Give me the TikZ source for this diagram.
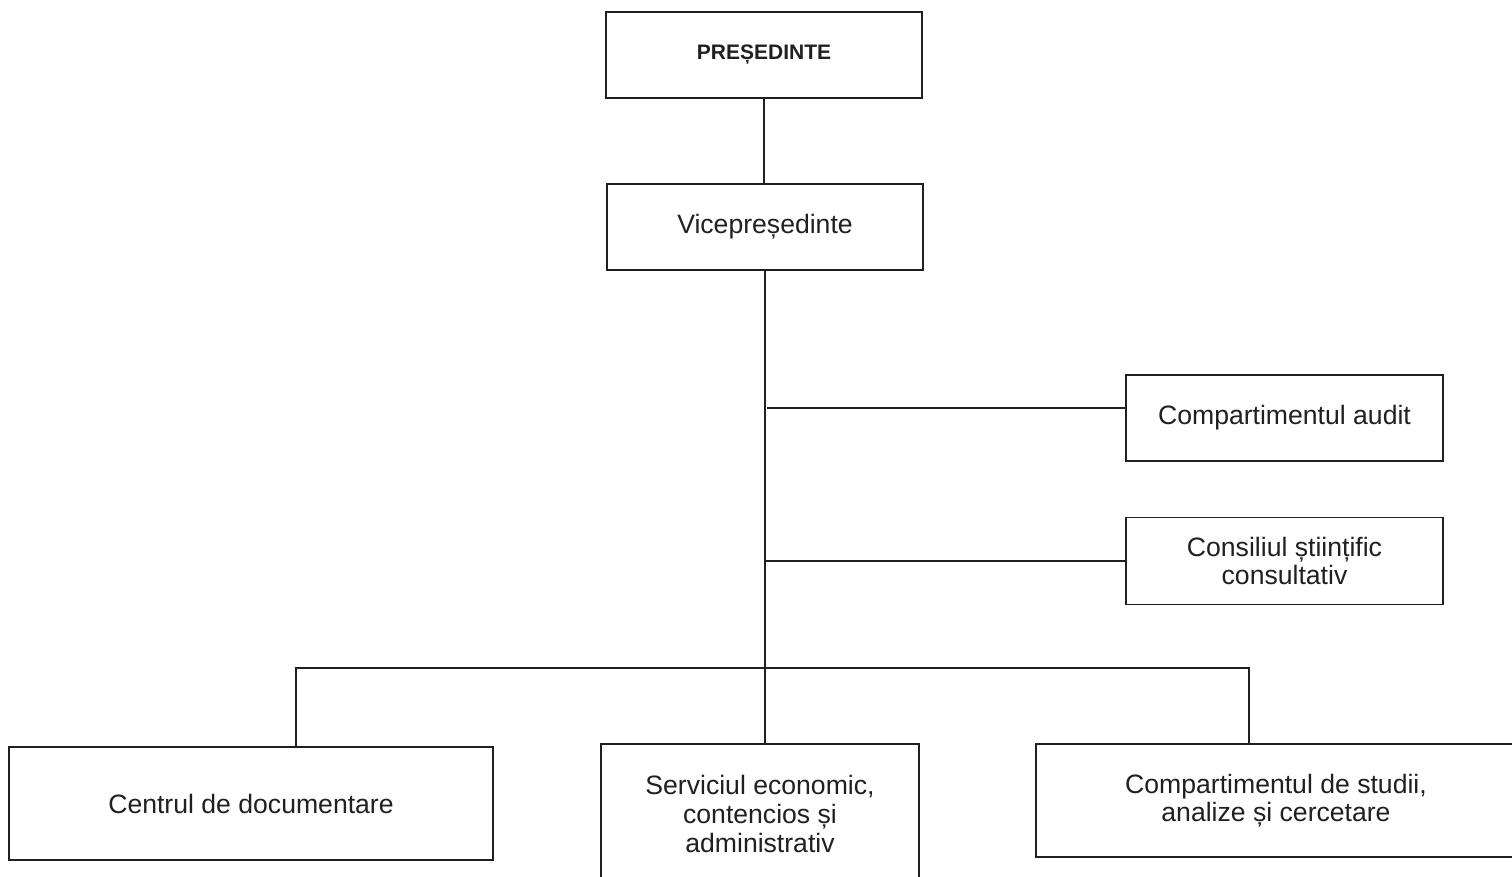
\documentclass[tikz,border=0pt]{standalone}
\usepackage{fontspec}
\setmainfont{Liberation Sans}
\definecolor{ink}{RGB}{35,31,32}
\begin{document}
\begin{tikzpicture}[x=1pt,y=-1pt,
  box/.style={draw=ink, line width=1.6pt, rectangle, inner sep=0pt, align=center,
    text=ink, font=\fontsize{26.6}{28.6}\selectfont},
  conn/.style={draw=ink, line width=1.5pt}]
\useasboundingbox (0,0) rectangle (1512,877);
\fill[white] (0,0) rectangle (1512,877);
\node[box, minimum width=316, minimum height=86, font=\fontsize{21}{24}\selectfont\bfseries] (pres) at (764,55) {PREȘEDINTE};
\node[box, minimum width=316, minimum height=86] (vice) at (765,227) {Vicepreședinte};
\node[box, minimum width=317, minimum height=86] (audit) at (1284.5,418) {Compartimentul audit};
\node[box, minimum width=317, minimum height=87] (cons) at (1284.5,561) {Consiliul științific\\consultativ};
\node[box, minimum width=484, minimum height=113] (centrul) at (251,803.5) {Centrul de documentare};
\node[box, minimum width=318, minimum height=140] (serv) at (760,814) {Serviciul economic,\\contencios și\\administrativ};
\node[box, minimum width=480, minimum height=113] (comp) at (1276,800.5) {Compartimentul de studii,\\analize și cercetare};
\coordinate (ja) at (767,408);
\coordinate (busL) at (296,668);
\coordinate (busR) at (1249,668);
\draw[conn] (pres.south) -- (pres.south |- vice.north);
\draw[conn] (vice.south) -- (vice.south |- serv.north);
\draw[conn] (ja) -- (ja -| audit.west);
\draw[conn] (cons.west) -- (cons.west -| vice.south);
\draw[conn] (busL |- centrul.north) -- (busL) -- (busR) -- (busR |- comp.north);
\end{tikzpicture}
\end{document}
